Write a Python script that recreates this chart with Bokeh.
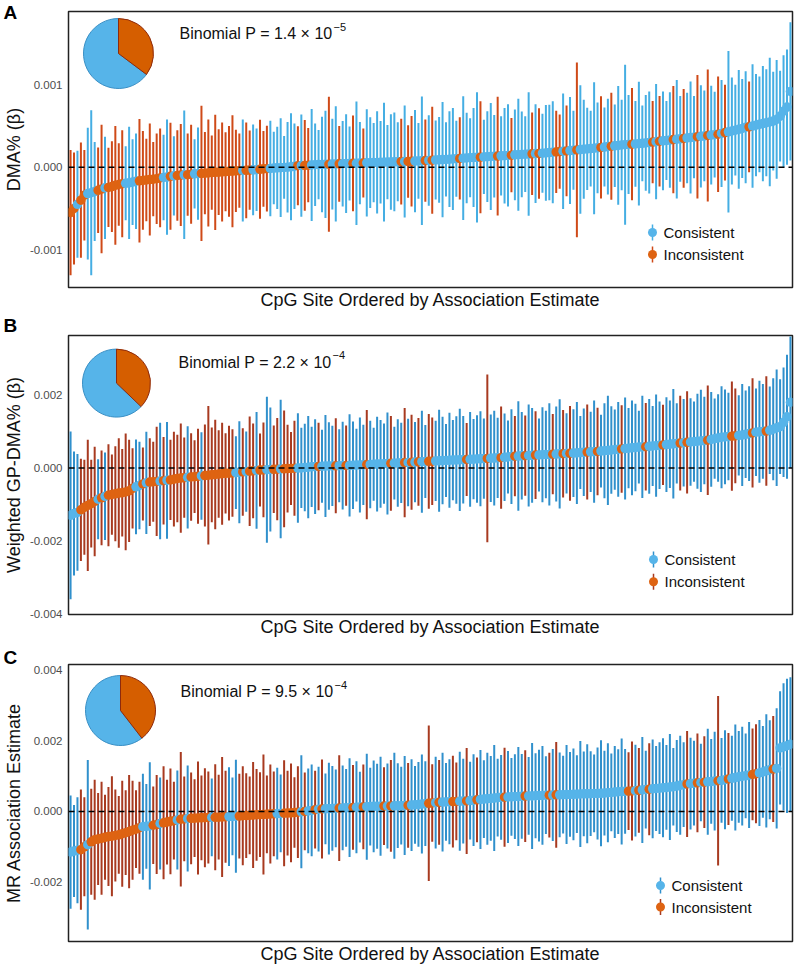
from math import pi
from bokeh.plotting import figure
from bokeh.layouts import column
from bokeh.models import Range1d, FixedTicker, PrintfTickFormatter, Span, Label, Title, ColumnDataSource
from bokeh.core.properties import value
from bokeh.embed import file_html
from bokeh.resources import INLINE

FONT = "Liberation Sans"
N_SITES = 210
SCALE = 1e-4

# ---------------- Panel A (values in units of 1e-4) ----------------
est_A = [
    -5.5, -5.0, -4.5, -4.0, -3.4, -3.2, -3.1, -2.95, -2.8, -2.65,
    -2.5, -2.45, -2.35, -2.2, -2.1, -2.0, -1.95, -1.9, -1.8, -1.7,
    -1.65, -1.6, -1.55, -1.5, -1.45, -1.4, -1.3, -1.25, -1.2, -1.1,
    -1.05, -1.0, -0.95, -0.92, -0.9, -0.85, -0.8, -0.78, -0.75, -0.72,
    -0.7, -0.65, -0.62, -0.6, -0.58, -0.55, -0.5, -0.48, -0.45, -0.42,
    -0.4, -0.38, -0.35, -0.32, -0.3, -0.25, -0.2, -0.18, -0.15, -0.1,
    -0.08, -0.05, -0.02, 0.0, 0.05, 0.12, 0.18, 0.2, 0.22, 0.25,
    0.27, 0.3, 0.32, 0.33, 0.35, 0.36, 0.38, 0.4, 0.41, 0.42,
    0.44, 0.45, 0.47, 0.48, 0.5, 0.51, 0.53, 0.55, 0.56, 0.58,
    0.6, 0.61, 0.62, 0.64, 0.65, 0.66, 0.68, 0.69, 0.7, 0.72,
    0.74, 0.76, 0.78, 0.8, 0.82, 0.85, 0.88, 0.9, 0.93, 0.95,
    0.98, 1.0, 1.03, 1.07, 1.1, 1.12, 1.15, 1.18, 1.2, 1.22,
    1.25, 1.28, 1.3, 1.33, 1.35, 1.38, 1.4, 1.43, 1.46, 1.5,
    1.52, 1.55, 1.58, 1.6, 1.63, 1.65, 1.67, 1.7, 1.74, 1.78,
    1.82, 1.86, 1.9, 1.94, 1.98, 2.02, 2.06, 2.1, 2.14, 2.18,
    2.22, 2.26, 2.3, 2.35, 2.4, 2.45, 2.5, 2.55, 2.6, 2.65,
    2.7, 2.73, 2.76, 2.8, 2.83, 2.86, 2.9, 2.95, 3.0, 3.05,
    3.1, 3.15, 3.2, 3.25, 3.3, 3.35, 3.4, 3.45, 3.5, 3.55,
    3.6, 3.65, 3.7, 3.75, 3.8, 3.85, 3.9, 3.95, 4.0, 4.1,
    4.2, 4.3, 4.4, 4.5, 4.6, 4.7, 4.85, 4.9, 5.0, 5.1,
    5.2, 5.3, 5.4, 5.5, 5.6, 5.8, 6.2, 6.8, 7.3, 9.2,
]
hw_A = [
    7.6, 6.8, 6.5, 7.0, 5.5, 8.0, 10.0, 6.0, 5.2, 7.8,
    6.2, 4.8, 5.5, 7.2, 5.0, 6.5, 4.5, 6.8, 5.2, 5.8,
    7.5, 6.0, 5.0, 6.8, 4.5, 5.5, 6.0, 5.2, 7.0, 6.5,
    4.8, 5.5, 6.2, 7.8, 5.0, 6.0, 4.2, 5.6, 8.2, 5.0,
    6.5, 4.5, 7.0, 5.2, 6.0, 4.8, 5.5, 6.8, 5.0, 4.5,
    6.2, 5.8, 4.8, 5.5, 5.0, 6.0, 4.6, 5.2, 5.8, 4.4,
    5.0, 6.0, 3.8, 5.5, 6.5, 5.2, 4.8, 6.2, 5.5, 4.5,
    6.8, 5.0, 4.2, 5.8, 6.5, 8.2, 5.5, 7.0, 4.6, 5.2,
    6.0, 4.5, 5.8, 7.5, 5.0, 4.2, 6.5, 5.5, 4.8, 6.2,
    5.0, 7.2, 4.5, 5.8, 6.0, 4.8, 5.2, 6.8, 4.4, 5.5,
    6.2, 4.6, 7.8, 5.0, 5.5, 6.5, 4.8, 5.2, 7.0, 4.5,
    5.8, 6.2, 4.6, 5.0, 7.5, 5.5, 4.8, 6.0, 7.9, 6.8,
    4.5, 5.5, 6.5, 5.0, 7.2, 4.8, 5.8, 6.2, 4.5, 5.5,
    6.8, 5.2, 4.6, 7.5, 5.0, 6.0, 5.5, 4.8, 5.8, 5.8,
    6.2, 5.0, 4.5, 7.0, 5.5, 6.5, 4.8, 10.6, 7.8, 6.0,
    5.0, 4.6, 8.0, 5.5, 6.2, 4.8, 5.8, 6.5, 5.0, 7.2,
    5.5, 9.7, 6.0, 6.8, 5.2, 7.5, 4.6, 5.8, 6.2, 5.0,
    7.0, 5.5, 6.0, 4.8, 5.8, 6.5, 7.2, 5.2, 6.0, 5.5,
    6.8, 5.0, 7.5, 6.2, 5.5, 8.0, 6.0, 5.2, 7.0, 6.5,
    5.8, 9.8, 6.5, 5.5, 7.2, 6.0, 6.8, 5.5, 7.5, 6.2,
    5.8, 7.0, 6.5, 7.8, 6.0, 7.2, 5.5, 6.8, 7.0, 8.4,
]
inc_A = [0, 1, 3, 4, 8, 9, 11, 12, 13, 14, 15, 20, 21, 22, 23, 24, 25, 26,
         29, 31, 32, 34, 35, 38, 39, 40, 41, 42, 43, 44, 45, 46, 47, 48, 49,
         51, 52, 55, 56, 57, 66, 68, 69, 75, 78, 82, 85, 96, 98, 99, 103, 105,
         113, 119, 124, 128, 134, 136, 141, 142, 144, 147, 154, 157, 163, 169,
         171, 175, 178, 182, 185, 188, 190, 197]

# ---------------- Panel B ----------------
est_B = [
    -13.0, -12.5, -12.2, -11.5, -10.8, -10.3, -9.8, -9.2, -8.6, -8.2,
    -7.8, -7.5, -7.3, -7.1, -6.9, -6.8, -6.6, -6.3, -5.6, -5.2,
    -4.8, -4.4, -4.1, -3.9, -3.8, -3.7, -3.6, -3.5, -3.4, -3.3,
    -3.1, -2.9, -2.8, -2.7, -2.6, -2.5, -2.4, -2.3, -2.2, -2.1,
    -2.0, -1.9, -1.8, -1.7, -1.6, -1.5, -1.45, -1.4, -1.3, -1.2,
    -1.1, -1.0, -0.9, -0.8, -0.7, -0.6, -0.55, -0.5, -0.45, -0.4,
    -0.35, -0.3, -0.25, -0.2, -0.15, -0.1, -0.05, 0.0, 0.1, 0.2,
    0.3, 0.35, 0.4, 0.45, 0.5, 0.52, 0.55, 0.58, 0.6, 0.62,
    0.65, 0.68, 0.72, 0.76, 0.8, 0.85, 0.9, 0.95, 1.0, 1.05,
    1.1, 1.15, 1.2, 1.25, 1.3, 1.35, 1.4, 1.45, 1.5, 1.55,
    1.6, 1.65, 1.7, 1.75, 1.8, 1.85, 1.9, 1.95, 2.0, 2.05,
    2.1, 2.13, 2.16, 2.2, 2.25, 2.3, 2.35, 2.4, 2.45, 2.5,
    2.55, 2.6, 2.65, 2.7, 2.75, 2.8, 2.9, 3.0, 3.1, 3.2,
    3.25, 3.3, 3.35, 3.4, 3.45, 3.5, 3.55, 3.6, 3.65, 3.7,
    3.75, 3.8, 3.85, 3.9, 3.95, 4.0, 4.05, 4.1, 4.2, 4.3,
    4.35, 4.4, 4.45, 4.5, 4.6, 4.7, 4.8, 4.9, 5.0, 5.1,
    5.2, 5.3, 5.4, 5.5, 5.6, 5.7, 5.75, 5.8, 5.9, 6.0,
    6.1, 6.2, 6.3, 6.4, 6.5, 6.6, 6.7, 6.8, 6.9, 7.0,
    7.1, 7.2, 7.3, 7.4, 7.5, 7.6, 7.8, 8.0, 8.2, 8.4,
    8.5, 8.6, 8.7, 8.8, 8.9, 9.0, 9.2, 9.4, 9.6, 9.8,
    9.9, 10.0, 10.1, 10.3, 10.6, 11.0, 11.3, 12.5, 14.0, 18.0,
]
hw_B = [
    23, 17, 16, 14, 13, 18, 12, 15, 11, 13,
    12, 14, 11, 13, 15, 12, 16, 14, 11, 13,
    12, 10, 14, 12, 11, 15, 16, 12, 16, 11,
    13, 12, 15, 11, 14, 12, 10, 13, 12, 14,
    19, 13, 15, 12, 14, 11, 13, 12, 10, 14,
    12, 11, 15, 13, 16, 10, 13, 20, 17, 12,
    14, 19, 16, 12, 10, 13, 15, 11, 12, 14,
    11, 13, 12, 10, 14, 12, 11, 13, 10, 12,
    11, 14, 12, 10, 13, 11, 15, 12, 10, 13,
    12, 11, 14, 13, 10, 12, 11, 15, 12, 13,
    11, 12, 14, 10, 13, 12, 11, 14, 12, 10,
    13, 11, 12, 14, 12, 10, 13, 11, 12, 13,
    11, 23, 12, 13, 11, 14, 12, 10, 13, 11,
    15, 12, 11, 14, 13, 12, 10, 13, 12, 14,
    11, 13, 15, 12, 11, 13, 12, 14, 10, 12,
    13, 11, 14, 12, 10, 13, 15, 12, 11, 13,
    12, 14, 11, 13, 12, 10, 14, 12, 13, 11,
    14, 12, 11, 13, 12, 15, 11, 13, 12, 14,
    12, 11, 13, 14, 12, 15, 13, 11, 12, 14,
    13, 12, 15, 13, 11, 14, 12, 13, 15, 12,
    14, 13, 15, 12, 14, 16, 13, 15, 17, 18,
]
inc_B = [3, 4, 5, 6, 7, 9, 11, 12, 13, 14, 15, 16, 17, 18, 21, 23, 24, 25, 27,
         29, 30, 31, 32, 33, 35, 36, 37, 39, 40, 41, 42, 43, 44, 45, 46, 47,
         50, 52, 53, 55, 56, 59, 60, 62, 63, 64, 65, 72, 77, 80, 86, 93, 97,
         99, 101, 104, 105, 115, 121, 125, 129, 132, 135, 140, 143, 145, 150,
         153, 160, 167, 172, 177, 179, 185, 192, 193, 198, 202]

# ---------------- Panel C ----------------
est_C = [
    -11.5, -11.2, -11.0, -10.8, -10.0, -9.4, -8.6, -8.0, -7.8, -7.6,
    -7.3, -7.1, -7.0, -6.8, -6.6, -6.3, -6.0, -5.7, -5.3, -5.0,
    -4.6, -4.3, -4.2, -4.1, -3.9, -3.7, -3.4, -3.2, -3.0, -2.8,
    -2.6, -2.4, -2.2, -2.1, -2.0, -1.95, -1.9, -1.85, -1.8, -1.75,
    -1.7, -1.68, -1.65, -1.6, -1.55, -1.5, -1.45, -1.4, -1.35, -1.3,
    -1.2, -1.15, -1.1, -1.0, -0.95, -0.9, -0.85, -0.8, -0.7, -0.65,
    -0.6, -0.55, -0.5, -0.45, -0.4, -0.3, -0.2, -0.1, 0.0, 0.15,
    0.3, 0.5, 0.65, 0.7, 0.75, 0.8, 0.85, 0.9, 0.95, 1.0,
    1.05, 1.1, 1.15, 1.2, 1.25, 1.3, 1.35, 1.4, 1.45, 1.48,
    1.5, 1.52, 1.55, 1.58, 1.6, 1.63, 1.65, 1.7, 1.75, 1.8,
    1.9, 2.0, 2.1, 2.2, 2.3, 2.4, 2.5, 2.6, 2.65, 2.7,
    2.75, 2.8, 2.85, 2.9, 2.95, 3.0, 3.1, 3.2, 3.3, 3.4,
    3.5, 3.6, 3.7, 3.8, 3.9, 4.0, 4.05, 4.1, 4.15, 4.2,
    4.25, 4.3, 4.35, 4.4, 4.4, 4.45, 4.5, 4.55, 4.6, 4.62,
    4.65, 4.7, 4.72, 4.75, 4.8, 4.82, 4.85, 4.9, 4.95, 5.0,
    5.0, 5.05, 5.1, 5.1, 5.15, 5.2, 5.3, 5.4, 5.5, 5.6,
    5.65, 5.7, 5.75, 5.8, 5.9, 6.0, 6.1, 6.2, 6.3, 6.4,
    6.5, 6.6, 6.7, 6.8, 6.9, 7.0, 7.2, 7.4, 7.6, 7.8,
    7.9, 8.0, 8.1, 8.2, 8.3, 8.4, 8.5, 8.6, 8.7, 8.8,
    9.0, 9.2, 9.4, 9.6, 9.8, 10.0, 10.1, 10.3, 10.5, 10.7,
    10.9, 11.2, 11.5, 11.8, 12.0, 12.2, 18.0, 18.3, 18.6, 19.0,
]
hw_C = [
    16, 13, 15, 17, 14, 24, 15, 17, 13, 16,
    12, 14, 17, 13, 11, 15, 12, 16, 14, 11,
    13, 15, 12, 18, 11, 14, 13, 16, 12, 15,
    11, 14, 19, 12, 15, 13, 11, 16, 12, 14,
    13, 11, 15, 12, 17, 13, 14, 11, 16, 12,
    14, 12, 11, 15, 13, 12, 17, 11, 14, 12,
    13, 11, 15, 12, 14, 10, 13, 16, 11, 12,
    13, 11, 12, 14, 10, 13, 12, 11, 15, 12,
    11, 14, 12, 13, 10, 12, 15, 11, 13, 12,
    14, 11, 12, 13, 15, 12, 11, 14, 12, 13,
    11, 12, 14, 12, 22, 11, 13, 12, 14, 11,
    12, 13, 11, 14, 12, 15, 11, 13, 12, 14,
    11, 13, 12, 15, 11, 12, 14, 13, 11, 12,
    14, 12, 13, 11, 15, 12, 13, 14, 11, 12,
    13, 15, 12, 11, 14, 12, 13, 11, 15, 12,
    14, 12, 11, 13, 15, 12, 14, 11, 13, 12,
    15, 12, 11, 14, 13, 12, 15, 11, 13, 14,
    12, 13, 14, 12, 15, 11, 13, 14, 12, 15,
    13, 12, 14, 11, 13, 15, 12, 14, 24, 12,
    14, 13, 12, 15, 13, 14, 12, 15, 13, 14,
    15, 13, 16, 14, 15, 17, 16, 18, 19, 19,
]
inc_C = [3, 4, 6, 7, 8, 9, 10, 11, 12, 13, 14, 15, 16, 17, 18, 19, 20, 24, 25,
         27, 28, 29, 30, 32, 33, 35, 36, 37, 38, 39, 40, 42, 43, 44, 45, 49,
         50, 51, 52, 53, 54, 55, 56, 57, 58, 59, 62, 63, 64, 65, 66, 68, 71,
         73, 78, 82, 85, 91, 93, 98, 104, 105, 107, 111, 112, 115, 118, 126,
         132, 139, 141, 162, 163, 165, 168, 179, 182, 184, 188, 191, 198, 199,
         204]

# Axis ticks / ranges / labels
yticks_A = [-0.001, 0.0, 0.001]
yticks_B = [-0.004, -0.002, 0.0, 0.002]
yticks_C = [-0.002, 0.0, 0.002, 0.004]
yrange_A = (-0.00146, 0.00189)
yrange_B = (-0.00402, 0.00363)
yrange_C = (-0.00368, 0.00416)
ylabels = ["DMA% (\u03b2)", "Weighted GP-DMA% (\u03b2)", "MR Association Estimate"]
xlabel = "CpG Site Ordered by Association Estimate"
pvals = [("1.4", "\u22125"), ("2.2", "\u22124"), ("9.5", "\u22124")]
letters = ["A", "B", "C"]
legend_labels = ["Consistent", "Inconsistent"]

for arr in (est_A, hw_A, est_B, hw_B, est_C, hw_C):
    assert len(arr) == N_SITES, len(arr)

# Styling
FW = 724
FRAME_LEFT = 68   # approx page x of the frame's left edge
BLUE_PT = "#56B4E9"
ORANGE_PT = "#DE6312"
PIE_BLUE_LINE = "#3A8FC4"
PIE_ORANGE = "#D55E00"
PIE_ORANGE_LINE = "#8E2A0C"


def make_panel(idx, est, hw, inc, yticks, yrange, fh, top_b, bot_b, letter_up,
               pie_c, pie_r, ptxt, leg, bar_blue, bar_orange, letter_as_title=False):
    inc_set = set(inc)
    xs = list(range(N_SITES))
    e = [v * SCALE for v in est]
    lo = [(v - h) * SCALE for v, h in zip(est, hw)]
    hi = [(v + h) * SCALE for v, h in zip(est, hw)]
    bcol = [bar_orange if i in inc_set else bar_blue for i in xs]
    pcol = [ORANGE_PT if i in inc_set else BLUE_PT for i in xs]
    src = ColumnDataSource(dict(x=xs, est=e, lo=lo, hi=hi, bcol=bcol, pcol=pcol))

    p = figure(frame_width=FW, frame_height=fh,
               x_range=Range1d(-0.6, N_SITES - 0.4), y_range=Range1d(*yrange),
               output_backend="svg", toolbar_location=None,
               min_border_left=60, min_border_right=2,
               min_border_top=top_b, min_border_bottom=bot_b)
    p.extra_x_ranges = {"px": Range1d(0, FW)}
    p.extra_y_ranges = {"px": Range1d(0, fh)}
    p.background_fill_color = "white"
    p.border_fill_color = "white"
    p.outline_line_color = "#222222"
    p.outline_line_width = 1.5
    p.xgrid.visible = False
    p.ygrid.visible = False

    # axes
    p.xaxis.ticker = FixedTicker(ticks=[])
    p.xaxis.axis_label = xlabel
    p.xaxis.axis_label_text_font = FONT
    p.xaxis.axis_label_text_font_size = "18px"
    p.xaxis.axis_label_text_font_style = "normal"
    p.xaxis.axis_label_text_color = "#111111"
    p.xaxis.axis_label_standoff = 2
    p.xaxis.major_tick_out = 0
    p.xaxis.major_tick_in = 0
    p.xaxis.major_label_standoff = 0
    p.xaxis.axis_line_color = None
    p.xaxis.major_tick_line_color = None
    p.xaxis.minor_tick_line_color = None

    p.yaxis.ticker = FixedTicker(ticks=yticks)
    p.yaxis.formatter = PrintfTickFormatter(format="%.3f")
    p.yaxis.major_label_text_font = FONT
    p.yaxis.major_label_text_font_size = "11.5px"
    p.yaxis.major_label_text_color = "#4D4D4D"
    p.yaxis.major_label_standoff = 6
    p.yaxis.major_tick_out = 0
    p.yaxis.major_tick_in = 0
    p.yaxis.major_tick_line_color = None
    p.yaxis.minor_tick_line_color = None
    p.yaxis.axis_line_color = None
    p.yaxis.axis_label = ylabels[idx]
    p.yaxis.axis_label_text_font = FONT
    p.yaxis.axis_label_text_font_size = "18px"
    p.yaxis.axis_label_text_font_style = "normal"
    p.yaxis.axis_label_text_color = "#111111"
    p.yaxis.axis_label_standoff = 3

    # error bars and points
    p.segment(x0="x", y0="lo", x1="x", y1="hi", source=src,
              line_color="bcol", line_width=2)
    p.scatter(x="x", y="est", source=src, size=9.5,
              fill_color="pcol", line_color=None)
    p.add_layout(Span(location=0, dimension="width", line_color="black",
                      line_dash="6 4", line_width=1.5))

    # pie of consistent / inconsistent share
    frac = len(inc) / N_SITES
    cx, cy = pie_c[0], fh - pie_c[1]
    p.wedge(x=[cx], y=[cy], radius=pie_r,
            start_angle=pi / 2 - 2 * pi * frac, end_angle=pi / 2 - 2 * pi,
            direction="clock", fill_color=BLUE_PT, line_color=PIE_BLUE_LINE,
            line_width=1, x_range_name="px", y_range_name="px")
    p.wedge(x=[cx], y=[cy], radius=pie_r,
            start_angle=pi / 2, end_angle=pi / 2 - 2 * pi * frac,
            direction="clock", fill_color=PIE_ORANGE, line_color=PIE_ORANGE_LINE,
            line_width=1, x_range_name="px", y_range_name="px")

    # binomial text
    tx, ty = ptxt[0], fh - ptxt[1]
    pv, ex = pvals[idx]
    p.text(x=[tx], y=[ty], text=["Binomial P = " + pv + " \u00d7 10"],
           text_font=value(FONT), text_font_size="16px", text_color="#111111",
           text_baseline="alphabetic", x_range_name="px", y_range_name="px")
    p.text(x=[tx + 154], y=[ty + 7], text=[ex],
           text_font=value(FONT), text_font_size="11px", text_color="#111111",
           text_baseline="alphabetic", x_range_name="px", y_range_name="px")

    # legend (drawn manually as pointrange keys)
    lx, ly1, ly2 = leg
    p.segment(x0=[lx, lx], y0=[ly1 - 8, ly2 - 8], x1=[lx, lx], y1=[ly1 + 8, ly2 + 8],
              line_color=[bar_blue, bar_orange], line_width=1.5,
              x_range_name="px", y_range_name="px")
    p.scatter(x=[lx, lx], y=[ly1, ly2], size=9, fill_color=[BLUE_PT, ORANGE_PT],
              line_color=None, x_range_name="px", y_range_name="px")
    p.text(x=[lx + 11, lx + 11], y=[ly1, ly2], text=legend_labels,
           text_font=value(FONT), text_font_size="15px", text_color="#111111",
           text_baseline="middle", x_range_name="px", y_range_name="px")

    # panel letter
    if letter_as_title:
        p.add_layout(Title(text=letters[idx], align="left", offset=3 - FRAME_LEFT,
                           standoff=-22, vertical_align="bottom",
                           text_font=FONT, text_font_size="19px",
                           text_font_style="bold", text_color="black"), "above")
    else:
        p.add_layout(Label(x=3 - FRAME_LEFT, y=fh + letter_up,
                           x_range_name="px", y_range_name="px",
                           text=letters[idx], text_font=FONT, text_font_size="19px",
                           text_font_style="bold", text_baseline="top",
                           text_color="black"), "above")
    return p


pA = make_panel(0, est_A, hw_A, inc_A, yticks_A, yrange_A, 276, 11, 24, 0,
                (50, 42), 35, (111, 22), (584, 55, 33), "#45AEE3", "#CF4A18",
                letter_as_title=True)
pB = make_panel(1, est_B, hw_B, inc_B, yticks_B, yrange_B, 279, 23, 27, 21,
                (48, 47.6), 34, (110, 26.6), (585, 55, 32.7), "#3090CC", "#A83A20")
pC = make_panel(2, est_C, hw_C, inc_C, yticks_C, yrange_C, 277, 23, 22, 18,
                (52, 46), 35, (112, 27), (592, 56, 34.5), "#3090CC", "#A83A20")

layout = column(pA, pB, pC)
open("out.html", "w").write(file_html(layout, INLINE))
